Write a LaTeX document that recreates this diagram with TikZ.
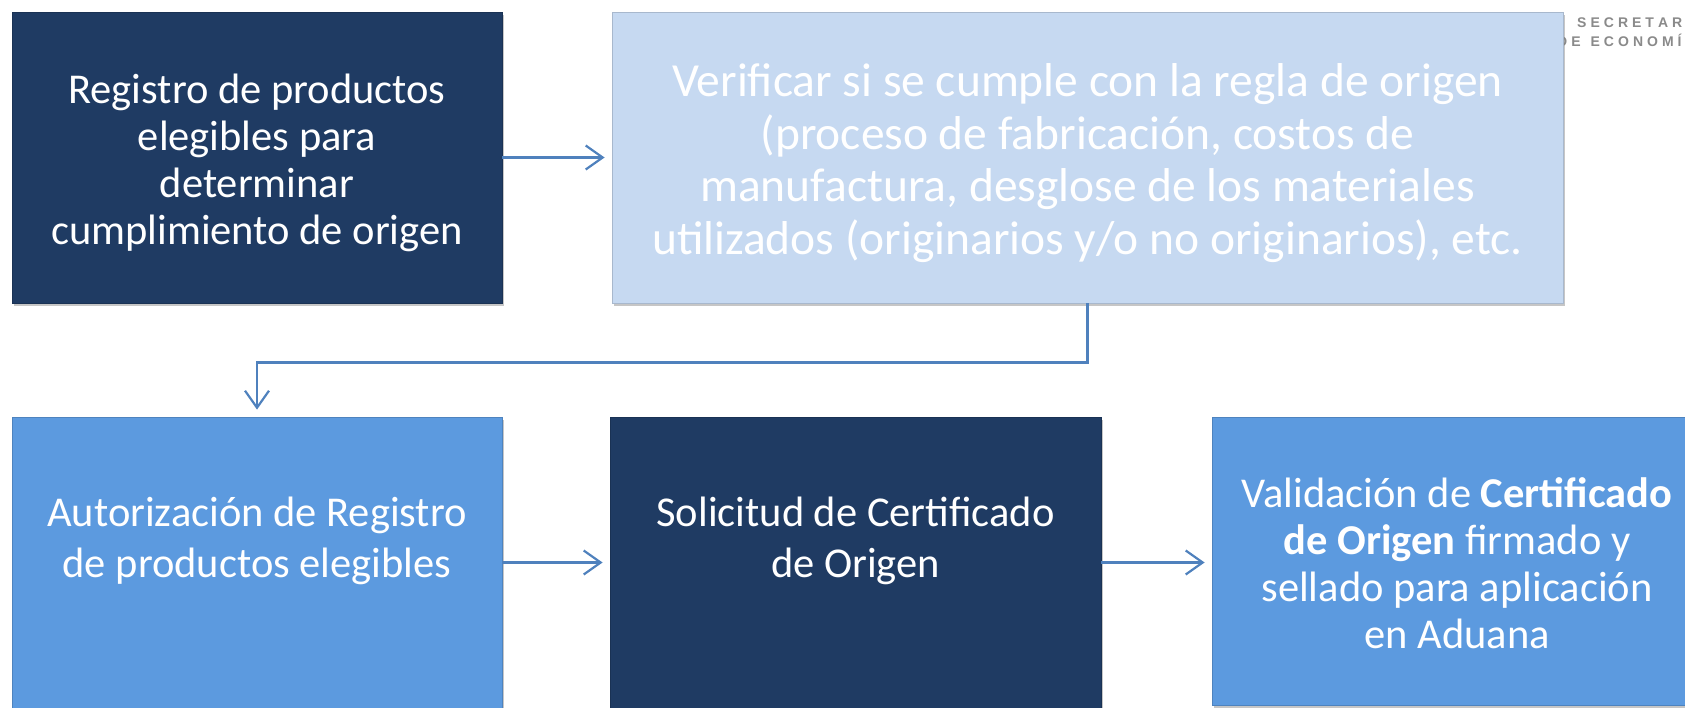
\documentclass[tikz,border=0pt]{standalone}
\usepackage{fontspec}
\setmainfont{Carlito}
\newfontfamily\logofont{Liberation Sans}
\usetikzlibrary{arrows.meta,shadows,calc}
\definecolor{navy}{HTML}{1F3B63}
\definecolor{lightb}{HTML}{C6D9F1}
\definecolor{midb}{HTML}{5C9ADF}
\definecolor{conn}{HTML}{4F81BD}
\definecolor{logogrey}{HTML}{8A8A8A}
\def\spcout#1{\ifx#1\relax\else#1\kern4pt\expandafter\spcout\fi}
\tikzset{
  box/.style={rectangle, draw=#1!85!black, fill=#1, line width=0.8pt,
    inner sep=0pt, drop shadow={shadow xshift=2pt, shadow yshift=-3pt, opacity=0.45}},
  txt/.style={text=white, align=center, inner sep=0pt},
  logo/.style={anchor=base west, inner sep=0pt, text=logogrey, font=\logofont\bfseries\fontsize{14}{16}\selectfont},
  conn/.style={draw=conn, line width=2.2pt, -{Straight Barb[length=17pt,width=24pt,line width=2.2pt]}, shorten >=7pt},
}
\begin{document}
\begin{tikzpicture}[x=1pt,y=-1pt]
\useasboundingbox (0,0) rectangle (1685,708);
\clip (0,0) rectangle (1685,708);
% logo behind
\node[logo] (logo1) at (1577,28) {\spcout SECRETARÍA\relax};
\node[logo] (logo2) at (1557,47) {\spcout DE\relax\kern6pt\spcout ECONOMÍA\relax};
% boxes
\node[box=navy, minimum width=490pt, minimum height=291pt] (b1) at (257,157.5) {};
\node[box=lightb, minimum width=951pt, minimum height=291pt] (b2) at (1087.5,157.5) {};
\node[box=midb, minimum width=490pt, minimum height=291pt] (b3) at (257,562.5) {};
\node[box=navy, minimum width=491pt, minimum height=291pt] (b4) at (855.5,562.5) {};
\node[box=midb, minimum width=500pt, minimum height=288pt] (b5) at (1462,561) {};
% texts
\node[txt, font=\fontsize{42.5}{47}\selectfont] (t1) at (257,163) {Registro de productos\\elegibles para\\determinar\\cumplimiento de origen};
\node[txt, font=\fontsize{47.5}{52.7}\selectfont] (t2) at (1087.5,163) {Verificar si se cumple con la regla de origen\\(proceso de fabricación, costos de\\manufactura, desglose de los materiales\\utilizados (originarios y/o no originarios), etc.};
\node[txt, font=\fontsize{42.5}{51}\selectfont] (t3) at (257,541) {Autorización de Registro\\de productos elegibles};
\node[txt, font=\fontsize{42.5}{51}\selectfont] (t4) at (855.5,541) {Solicitud de Certificado\\de Origen};
\node[txt, font=\fontsize{42.5}{47}\selectfont] (t5) at (1457,563) {Validación de \textbf{Certificado}\\\textbf{de Origen} firmado y\\sellado para aplicación\\en Aduana};
% connectors
\draw[conn] (b1.east) -- (b2.west);
\draw[conn] (b2.south) -- ++(0,59) -| (b3.north);
\draw[conn] (b3.east) -- (b4.west);
\draw[conn] (b4.east) -- (b5.west |- b4.east);
\end{tikzpicture}
\end{document}
